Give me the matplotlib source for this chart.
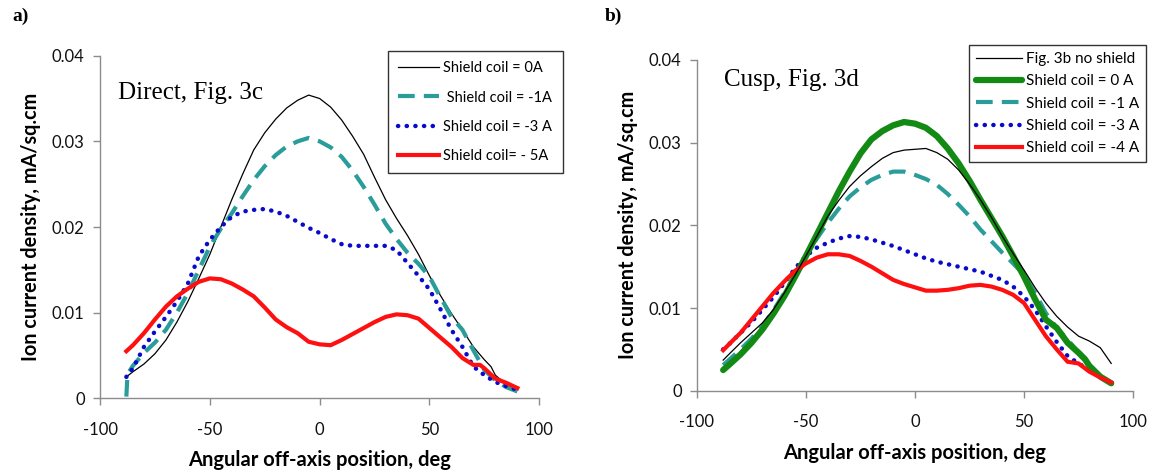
import matplotlib
matplotlib.use("Agg")
import matplotlib.pyplot as plt

# ---------------- data: panel a (Direct, Fig. 3c) ----------------
a_x0 = [-88, -85, -80, -75, -70, -65, -60, -55, -50, -45, -40, -35, -30, -25, -20, -15, -10, -5, 0, 5, 10, 15, 20,
        25, 30, 35, 40, 45, 50, 55, 60, 65, 70, 75, 78, 80, 85, 90]
a_y0 = [0.0025, 0.0031, 0.0040, 0.0052, 0.0068, 0.0089, 0.0113, 0.0140, 0.0168, 0.0200, 0.0232, 0.0262, 0.0290,
        0.0310, 0.0326, 0.0339, 0.0348, 0.0354, 0.0350, 0.0340, 0.0325, 0.0306, 0.0285, 0.0258, 0.0232, 0.0210,
        0.0190, 0.0168, 0.0143, 0.0120, 0.0099, 0.0080, 0.0060, 0.0045, 0.0037, 0.0027, 0.0016, 0.0010]

a_x1 = [-88, -87.5, -85, -80, -75, -70, -65, -60, -55, -50, -45, -40, -35, -30, -25, -20, -15, -10, -5, 0, 5, 10,
        15, 20, 25, 30, 35, 40, 45, 50, 55, 60, 65, 70, 75, 80, 85, 90]
a_y1 = [0.0002, 0.0028, 0.0038, 0.0053, 0.0065, 0.0080, 0.0100, 0.0123, 0.0150, 0.0177, 0.0198, 0.0216, 0.0236,
        0.0255, 0.0271, 0.0284, 0.0294, 0.0300, 0.0304, 0.0300, 0.0293, 0.0282, 0.0266, 0.0247, 0.0226, 0.0204,
        0.0186, 0.0170, 0.0157, 0.0142, 0.0118, 0.0095, 0.0080, 0.0056, 0.0033, 0.0021, 0.0013, 0.0008]

a_x3 = [-88, -85, -80, -75, -70, -65, -60, -55, -50, -45, -40, -35, -30, -25, -20, -15, -10, -5, 0, 5, 10, 15, 20,
        25, 30, 35, 40, 45, 50, 55, 60, 65, 70, 75, 80, 85, 90]
a_y3 = [0.0025, 0.0035, 0.0060, 0.0078, 0.0095, 0.0113, 0.0134, 0.0166, 0.0185, 0.0200, 0.0212, 0.0218, 0.0220,
        0.0221, 0.0218, 0.0213, 0.0206, 0.0199, 0.0193, 0.0186, 0.0180, 0.0178, 0.0178, 0.0178, 0.0178, 0.0173,
        0.0158, 0.0143, 0.0127, 0.0104, 0.0080, 0.0060, 0.0037, 0.0027, 0.0019, 0.0014, 0.0010]

a_x5 = [-88, -85, -80, -75, -70, -65, -60, -55, -50, -45, -40, -35, -30, -25, -20, -15, -10, -5, 0, 5, 10, 15, 20,
        25, 30, 35, 40, 45, 50, 55, 60, 65, 70, 73, 75, 80, 85, 90]
a_y5 = [0.0055, 0.0062, 0.0076, 0.0092, 0.0107, 0.0119, 0.0128, 0.0136, 0.0140, 0.0139, 0.0134, 0.0127, 0.0119,
        0.0106, 0.0092, 0.0083, 0.0076, 0.0066, 0.0063, 0.0062, 0.0068, 0.0075, 0.0082, 0.0089, 0.0095, 0.0098,
        0.0097, 0.0093, 0.0082, 0.0071, 0.0060, 0.0047, 0.0039, 0.0039, 0.0035, 0.0023, 0.0018, 0.0012]

# ---------------- data: panel b (Cusp, Fig. 3d) ----------------
b_xn = [-88, -85, -80, -75, -70, -65, -60, -55, -50, -45, -40, -35, -30, -25, -20, -15, -10, -5, 0, 5, 10, 15, 20,
        25, 30, 35, 40, 45, 50, 55, 60, 65, 70, 75, 80, 85, 90]
b_yn = [0.0037, 0.0045, 0.0058, 0.0070, 0.0082, 0.0098, 0.0118, 0.0140, 0.0163, 0.0187, 0.0211, 0.0230, 0.0247,
        0.0260, 0.0271, 0.0281, 0.0288, 0.0291, 0.0292, 0.0293, 0.0288, 0.0280, 0.0267, 0.0250, 0.0231, 0.0210,
        0.0187, 0.0166, 0.0146, 0.0125, 0.0106, 0.0090, 0.0077, 0.0066, 0.0060, 0.0052, 0.0033]

b_x0 = [-88, -85, -80, -75, -70, -65, -60, -55, -50, -45, -40, -35, -30, -25, -20, -15, -10, -5, 0, 5, 10, 15, 20,
        25, 30, 35, 40, 45, 50, 55, 60, 65, 70, 75, 78, 80, 85, 90]
b_y0 = [0.0025, 0.0032, 0.0044, 0.0058, 0.0074, 0.0093, 0.0114, 0.0138, 0.0163, 0.0189, 0.0215, 0.0241, 0.0265,
        0.0287, 0.0304, 0.0314, 0.0321, 0.0325, 0.0323, 0.0318, 0.0308, 0.0293, 0.0275, 0.0254, 0.0231, 0.0209,
        0.0187, 0.0163, 0.0138, 0.0111, 0.0086, 0.0076, 0.0058, 0.0046, 0.0038, 0.0030, 0.0017, 0.0009]

b_x1 = [-88, -85, -80, -75, -70, -65, -60, -55, -50, -45, -40, -35, -30, -25, -20, -15, -10, -5, 0, 5, 10, 15, 20,
        25, 30, 35, 40, 45, 50, 55, 60, 65, 70, 75, 80, 85, 90]
b_y1 = [0.0031, 0.0038, 0.0050, 0.0063, 0.0078, 0.0097, 0.0118, 0.0140, 0.0163, 0.0184, 0.0203, 0.0220, 0.0235,
        0.0246, 0.0255, 0.0261, 0.0265, 0.0265, 0.0261, 0.0256, 0.0249, 0.0238, 0.0225, 0.0211, 0.0195, 0.0181,
        0.0167, 0.0154, 0.0140, 0.0119, 0.0094, 0.0076, 0.0062, 0.0046, 0.0030, 0.0018, 0.0009]

b_x3 = [-88, -85, -80, -75, -70, -65, -60, -55, -50, -45, -40, -35, -30, -25, -20, -15, -10, -5, 0, 5, 10, 20, 30,
        40, 45, 50, 55, 60, 65, 70, 75, 80, 85, 90]
b_y3 = [0.0050, 0.0057, 0.0070, 0.0083, 0.0098, 0.0113, 0.0130, 0.0148, 0.0163, 0.0173, 0.0179, 0.0184, 0.0187,
        0.0186, 0.0183, 0.0179, 0.0175, 0.0170, 0.0165, 0.0160, 0.0156, 0.0150, 0.0144, 0.0134, 0.0126, 0.0114,
        0.0098, 0.0078, 0.0059, 0.0042, 0.0033, 0.0025, 0.0016, 0.0009]

b_x4 = [-88, -85, -80, -75, -70, -65, -60, -55, -50, -45, -40, -35, -30, -25, -20, -15, -10, -5, 0, 5, 10, 15, 20,
        25, 30, 35, 40, 45, 50, 55, 60, 65, 70, 75, 80, 85, 90]
b_y4 = [0.0049, 0.0057, 0.0070, 0.0086, 0.0102, 0.0118, 0.0132, 0.0145, 0.0154, 0.0161, 0.0165, 0.0165, 0.0163,
        0.0157, 0.0150, 0.0142, 0.0134, 0.0129, 0.0125, 0.0121, 0.0121, 0.0122, 0.0124, 0.0127, 0.0128, 0.0126,
        0.0122, 0.0116, 0.0106, 0.0086, 0.0066, 0.0050, 0.0035, 0.0033, 0.0023, 0.0016, 0.0010]

a_labels = ["Shield coil = 0A", " Shield coil = -1A", "Shield coil = -3 A", "Shield coil= - 5A"]
b_labels = ["Fig. 3b no shield", "Shield coil = 0 A", "Shield coil = -1 A", "Shield coil = -3 A", "Shield coil = -4 A"]
xticks = [-100, -50, 0, 50, 100]
yticks = [0, 0.01, 0.02, 0.03, 0.04]
ytick_labels = ["0", "0.01", "0.02", "0.03", "0.04"]

SANS = ["Lato", "DejaVu Sans"]
SERIF = ["Liberation Serif", "DejaVu Serif"]
plt.rcParams["font.family"] = SANS

TEAL = "#2a9d9a"
BLUE = "#0a0acc"
RED = "#ff1010"
GREEN = "#138a13"

W, H = 1151, 470
fig = plt.figure(figsize=(W / 100, H / 100), dpi=100)

ax_a = fig.add_axes([100 / W, 1 - 398.3 / H, 439.3 / W, (398.3 - 55.7) / H])
ax_b = fig.add_axes([697 / W, 1 - 390.7 / H, 436 / W, (390.7 - 60) / H])


def style(ax):
    ax.set_xlim(-100, 100)
    ax.set_ylim(0, 0.04)
    ax.set_xticks(xticks)
    ax.set_xticklabels([str(t) for t in xticks])
    ax.set_yticks(yticks)
    ax.set_yticklabels(ytick_labels)
    for s in ["top", "right"]:
        ax.spines[s].set_visible(False)
    for s in ["left", "bottom"]:
        ax.spines[s].set_color("#8c8c8c")
        ax.spines[s].set_linewidth(1.0)
    ax.tick_params(axis="both", direction="out", length=5, width=1.0, color="#8c8c8c",
                   labelsize=12, labelcolor="#111111")
    ax.tick_params(axis="x", pad=12)
    ax.tick_params(axis="y", pad=6)
    ax.set_xlabel("Angular off-axis position, deg", fontsize=14.5, fontweight="bold", labelpad=9)
    ax.set_ylabel("Ion current density, mA/sq.cm", fontsize=14.3, fontweight="bold", labelpad=8)


# panel a
l0, = ax_a.plot(a_x0, a_y0, color="black", lw=0.9)
l1, = ax_a.plot(a_x1, a_y1, color=TEAL, lw=3.0, linestyle=(0, (4, 2.2)))
l3, = ax_a.plot(a_x3, a_y3, color=BLUE, lw=3.2, linestyle=(0, (0.05, 1.9)), dash_capstyle="round")
l5, = ax_a.plot(a_x5, a_y5, color=RED, lw=3.0)
style(ax_a)
ax_a.text(118 / W, 1 - 93 / H, "Direct, Fig. 3c", transform=fig.transFigure, family=SERIF,
          fontsize=18, va="center", ha="left")
leg_a = ax_a.legend([l0, l1, l3, l5], a_labels, loc="upper left",
                    bbox_to_anchor=(388 / W, 1 - 51 / H), bbox_transform=fig.transFigure,
                    frameon=True, fancybox=False, edgecolor="black", fontsize=10.5,
                    labelspacing=1.05, handlelength=2.8, handletextpad=0.3, borderpad=0.7,
                    borderaxespad=0)
leg_a.get_frame().set_linewidth(1.0)

# panel b
m_n, = ax_b.plot(b_xn, b_yn, color="black", lw=0.9, zorder=5)
m1, = ax_b.plot(b_x1, b_y1, color=TEAL, lw=3.0, linestyle=(0, (4, 2.2)), zorder=2)
m3, = ax_b.plot(b_x3, b_y3, color=BLUE, lw=3.2, linestyle=(0, (0.05, 1.9)), dash_capstyle="round", zorder=2)
m0, = ax_b.plot(b_x0, b_y0, color=GREEN, lw=4.5, solid_capstyle="round", zorder=3)
m4, = ax_b.plot(b_x4, b_y4, color=RED, lw=3.0, zorder=4)
style(ax_b)
ax_b.text(724 / W, 1 - 80 / H, "Cusp, Fig. 3d", transform=fig.transFigure, family=SERIF,
          fontsize=18, va="center", ha="left")
leg_b = ax_b.legend([m_n, m0, m1, m3, m4], b_labels, loc="upper left",
                    bbox_to_anchor=(969 / W, 1 - 45 / H), bbox_transform=fig.transFigure,
                    frameon=True, fancybox=False, edgecolor="black", fontsize=11,
                    labelspacing=0.55, handlelength=3.0, handletextpad=0.3, borderpad=0.45,
                    borderaxespad=0)
leg_b.get_frame().set_linewidth(1.0)

fig.text(12 / W, 1 - 16 / H, "a)", family=SERIF, fontweight="bold", fontsize=14, va="center", ha="left")
fig.text(605 / W, 1 - 16 / H, "b)", family=SERIF, fontweight="bold", fontsize=14, va="center", ha="left")

fig.savefig("out.png", dpi=100)
